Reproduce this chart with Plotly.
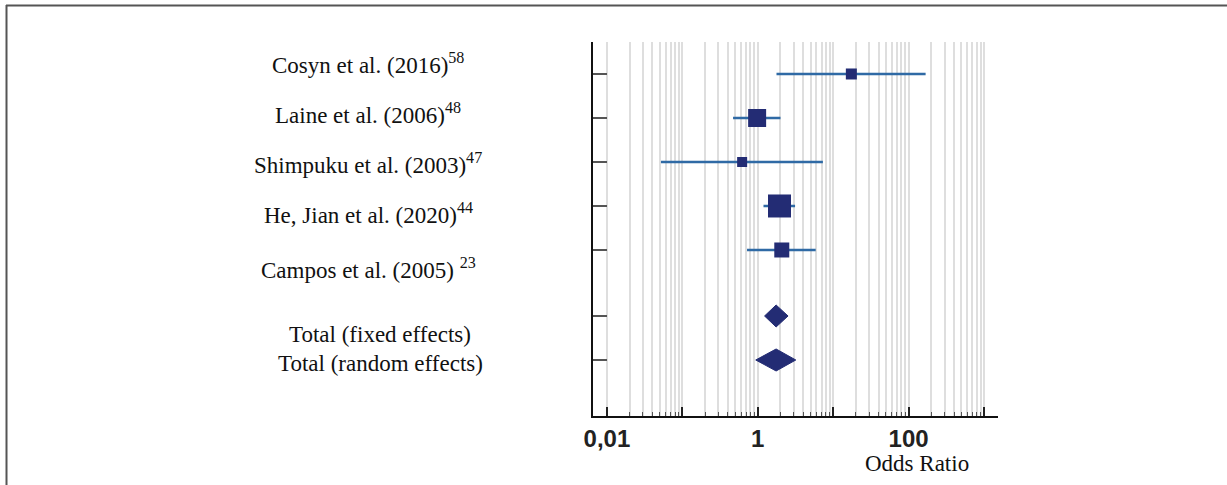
import plotly.graph_objects as go

# ---------------- data ----------------
studies = ["Cosyn et al. (2016)", "Laine et al. (2006)", "Shimpuku et al. (2003)",
           "He, Jian et al. (2020)", "Campos et al. (2005)"]
refs = ["58", "48", "47", "44", "23"]
or_est = [17.4, 0.98, 0.62, 1.94, 2.08]
ci_low = [1.77, 0.47, 0.052, 1.19, 0.72]
ci_high = [168, 2.0, 7.3, 3.12, 5.86]

totals = ["Total (fixed effects)", "Total (random effects)"]
tot_est = [1.75, 1.75]
tot_low = [1.23, 0.94]
tot_high = [2.52, 3.19]

tick_vals = [0.01, 0.1, 1, 10, 100, 1000]
tick_text = ["0,01", "", "1", "", "100", ""]

# ---------------- layout constants ----------------
W, H = 1227, 485
L, R, T, B = 593, 229, 42, 69
PW, PH = W - L - R, H - T - B
study_rows = [0, 1, 2, 3, 4]
total_rows = [5.5, 6.5]
marker_sizes = [11, 18, 10, 23, 15]
diamond_half = 0.25
label_px_y = [63, 113, 163, 213, 268, 334, 363]
label_px_x = [368, 368, 368, 368, 368, 380, 380]
NAVY = "#232c74"
CI_COL = "#2f6aa5"

def px_x(p):
    return (p - L) / PW

def px_y(p):
    return (H - B - p) / PH

fig = go.Figure()

# CI lines
cx, cy = [], []
for lo, hi, r in zip(ci_low, ci_high, study_rows):
    cx += [lo, hi, None]
    cy += [r, r, None]
fig.add_trace(go.Scatter(x=cx, y=cy, mode="lines",
                         line=dict(color=CI_COL, width=2.5),
                         hoverinfo="skip", showlegend=False))

# study squares
fig.add_trace(go.Scatter(x=or_est, y=study_rows, mode="markers",
                         marker=dict(symbol="square", size=marker_sizes, color=NAVY,
                                     opacity=1, line=dict(width=0)),
                         showlegend=False))

# diamonds
for est, lo, hi, r in zip(tot_est, tot_low, tot_high, total_rows):
    fig.add_trace(go.Scatter(x=[lo, est, hi, est, lo],
                             y=[r, r - diamond_half, r, r + diamond_half, r],
                             mode="lines", fill="toself", fillcolor=NAVY,
                             line=dict(color=NAVY, width=1), showlegend=False))

annotations = []
labels = [f"{s}<sup>{rf}</sup>" if i < 4 else f"{s} <sup>{rf}</sup>"
          for i, (s, rf) in enumerate(zip(studies, refs))] + totals
for txt, lx, ly in zip(labels, label_px_x, label_px_y):
    annotations.append(dict(text=txt, xref="paper", yref="paper",
                            x=px_x(lx), y=px_y(ly), xanchor="center", yanchor="middle",
                            showarrow=False,
                            font=dict(family="Liberation Serif", size=23, color="#111")))
annotations.append(dict(text="Odds Ratio", xref="paper", yref="paper",
                        x=px_x(917), y=px_y(463), xanchor="center", yanchor="middle",
                        showarrow=False,
                        font=dict(family="Liberation Serif", size=23, color="#111")))

shapes = [
    # reference line at OR = 1
    dict(type="line", xref="x", yref="paper", x0=0, x1=0, y0=0, y1=px_y(53),
         line=dict(color="#8fb3d6", width=1.5)),
    # frame (top & left)
    dict(type="line", xref="paper", yref="paper", x0=px_x(6), x1=px_x(W + 5),
         y0=px_y(5.5), y1=px_y(5.5), line=dict(color="#555", width=2)),
    dict(type="line", xref="paper", yref="paper", x0=px_x(6.5), x1=px_x(6.5),
         y0=px_y(5), y1=px_y(H + 5), line=dict(color="#555", width=2)),
]

minor_vals = [m * 10 ** e for e in range(-2, 3) for m in range(2, 10)]

fig.update_layout(
    width=W, height=H, autosize=False,
    margin=dict(l=L, r=R, t=T, b=B, pad=0),
    paper_bgcolor="white", plot_bgcolor="white",
    annotations=annotations, shapes=shapes,
    xaxis=dict(type="log", range=[-2.185, 3.185],
               tickvals=tick_vals, ticktext=tick_text,
               ticks="inside", ticklen=9, tickwidth=2, tickcolor="#222",
               showline=True, linecolor="#111", linewidth=2,
               showgrid=True, gridcolor="#dedede", gridwidth=1.5,
               zeroline=False,
               tickfont=dict(family="Liberation Sans", size=24, color="#222", weight="bold"),
               minor=dict(tickvals=minor_vals, ticks="inside", ticklen=4, tickwidth=1,
                          tickcolor="#555", showgrid=True, gridcolor="#dedede",
                          gridwidth=1.5)),
    yaxis=dict(range=[(H - B - T) / 44 - 0.727, -0.727],
               tickvals=study_rows + total_rows, ticktext=[""] * 7,
               ticks="inside", ticklen=14, tickwidth=2, tickcolor="#555",
               showline=True, linecolor="#111", linewidth=2,
               showgrid=False, zeroline=False, showticklabels=False),
)

fig.write_html("out.html", config={"displayModeBar": False},
               post_script="document.body.style.margin='0px';document.body.style.overflow='hidden';")
